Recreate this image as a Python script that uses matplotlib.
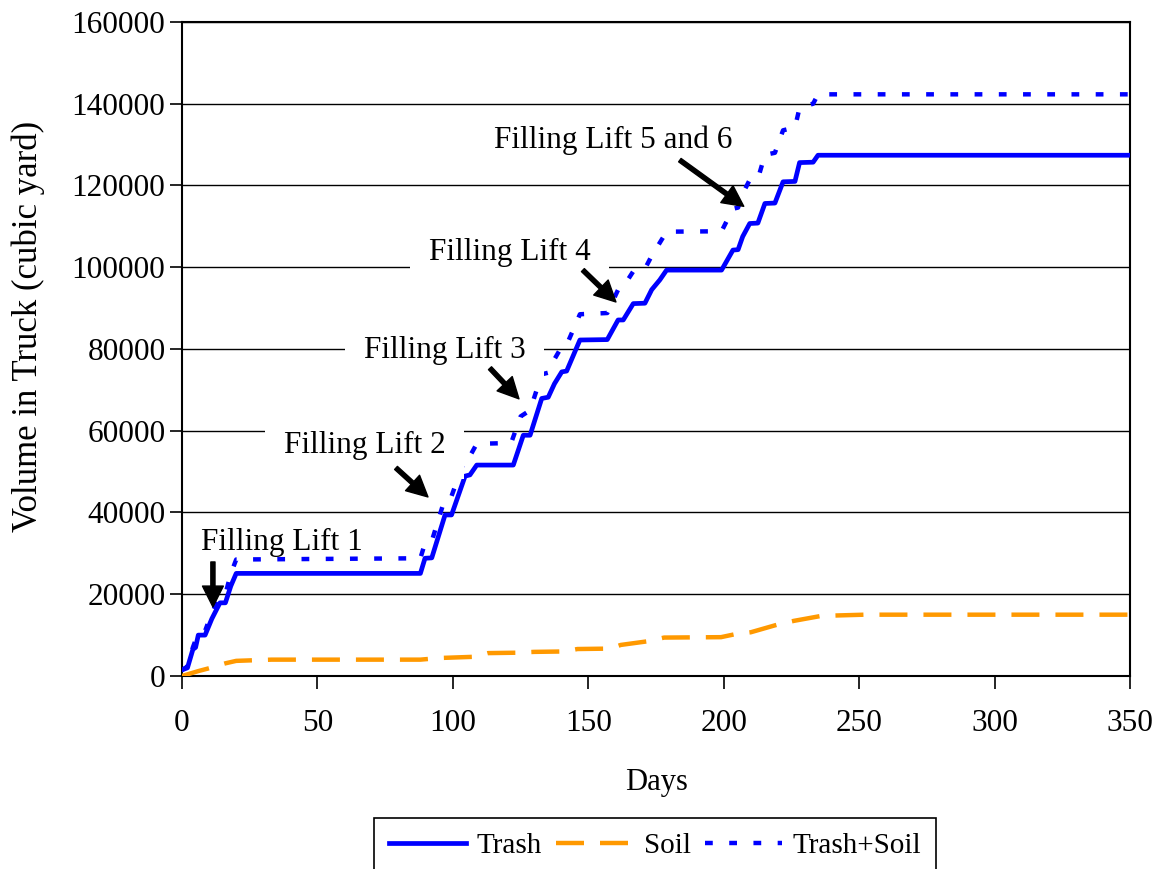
import numpy as np
import matplotlib
matplotlib.use('Agg')
import matplotlib.pyplot as plt

plt.rcParams['font.family'] = ['Liberation Serif', 'DejaVu Serif']

# cumulative volumes hauled (cubic yard) by day
trash_days = [0, 2, 4, 5, 6, 8.5, 11, 14, 16, 18, 20, 88, 89.7, 92.2, 97.1, 99.5,
              104.5, 106.3, 108.8, 122.3, 126, 128.5, 132.8, 135.2, 137.5, 140.2,
              142, 146.9, 157, 161, 162.9, 166.6, 170.9, 173.4, 176.4, 178.9, 199.2,
              203.4, 205.3, 207, 209.6, 212.6, 215.2, 218.9, 221.9, 226.3, 228, 233,
              234.8, 350]
trash_vol = [1500, 2000, 6500, 7000, 10000, 10000, 14000, 17900, 17900, 22000, 25100,
             25100, 28800, 28900, 39400, 39400, 48900, 49200, 51600, 51600, 58900,
             58900, 67900, 68200, 71500, 74400, 74600, 82200, 82300, 87100, 87100,
             91100, 91200, 94500, 96900, 99300, 99300, 104200, 104300, 107500, 110700,
             110800, 115600, 115700, 120900, 121000, 125600, 125700, 127400, 127400]

soil_days = [0, 3, 6, 10, 16, 20, 33, 88, 95, 108, 113, 124, 130, 141, 146, 158, 162,
             172, 178, 199, 204, 210, 220, 226, 236, 252, 350]
soil_vol = [0, 600, 1200, 1900, 3100, 3700, 4000, 4000, 4400, 4700, 5600, 5700, 5900,
            6000, 6600, 6700, 7600, 8500, 9400, 9500, 10200, 10700, 12600, 13500,
            14700, 15000, 15000]

total_days = [0, 2, 4, 6, 8.5, 11, 14, 16, 18, 20, 88, 89.7, 92.2, 97.1, 99.5, 104.5,
              106.3, 108.8, 121.5, 125, 128.5, 132.8, 135.2, 137.5, 140.2, 142, 146.9,
              157, 161, 162.9, 166.6, 170.9, 173.4, 176.4, 178.9, 199.2, 203.4, 205.3,
              207, 209.6, 212.6, 215.2, 218.9, 221.9, 226.3, 228, 233, 234.8, 350]
total_vol = [1500, 2300, 7000, 10600, 11000, 15500, 19200, 20000, 25000, 28500, 28800,
             32500, 33000, 43500, 44000, 53300, 53800, 56800, 57000, 63500, 65000,
             73800, 74200, 77500, 80600, 81000, 88500, 88800, 94500, 95200, 99000,
             99600, 102800, 106000, 108700, 108800, 114300, 114600, 118000, 121400,
             121600, 127500, 128000, 133500, 134200, 139000, 140000, 142300, 142300]

# annotation text, text position, arrow tail, arrow tip, white box behind text
notes = [
    ('Filling Lift 1', (36.9, 32600), (11.4, 27900), (11.4, 16900), False),
    ('Filling Lift 2', (67.4, 56300), (79.0, 50900), (90.8, 43800), True),
    ('Filling Lift 3', (96.9, 79700), (113.7, 75300), (124.4, 67800), True),
    ('Filling Lift 4', (120.9, 103500), (148.0, 99300), (160.2, 91500), True),
    ('Filling Lift 5 and 6', (159.3, 131100), (183.8, 126200), (207.4, 114900), True),
]

fig = plt.figure(figsize=(11.61, 8.69), dpi=100)
ax = fig.add_axes([0.1568, 0.2221, 0.9733 - 0.1568, 0.9747 - 0.2221])

blue = '#0000FF'
orange = '#FF9900'

l1, = ax.plot(trash_days, trash_vol, color=blue, lw=3.4, label='Trash', zorder=3)
l2, = ax.plot(soil_days, soil_vol, color=orange, lw=3.2, label='Soil', zorder=3)
l2.set_dashes((6.3, 3.6))
l3, = ax.plot(total_days, total_vol, color=blue, lw=3.2, label='Trash+Soil', zorder=3)
l3.set_dashes((1.75, 3.7))

ax.set_xlim(0, 350)
ax.set_ylim(0, 160000)
ax.set_xticks(np.arange(0, 351, 50))
ax.set_yticks(np.arange(0, 160001, 20000))
ax.yaxis.grid(True, color='black', lw=1)
ax.set_axisbelow(True)
ax.tick_params(direction='out', length=9, width=1.2, labelsize=22.5)
ax.tick_params(axis='x', pad=15)
ax.tick_params(axis='y', pad=3)
for s in ax.spines.values():
    s.set_linewidth(1.5)
    s.set_color('black')

ax.set_xlabel('Days', fontsize=22)
ax.set_ylabel('Volume in Truck (cubic yard)', fontsize=25)
ax.xaxis.set_label_coords(0.501, -0.1636)
ax.yaxis.set_label_coords(-0.1625, 0.534)
ax.xaxis.label.set_va('center')
ax.yaxis.label.set_va('center')

for txt, pos, tail, tip, boxed in notes:
    ax.annotate('', xy=tip, xytext=tail,
                arrowprops=dict(facecolor='black', edgecolor='black', width=3,
                                headwidth=15, headlength=15, shrink=0), zorder=5)
    box = dict(boxstyle='square,pad=0.6', fc='white', ec='none') if boxed else None
    ax.text(pos[0], pos[1], txt, fontsize=22.5, ha='center', va='center', zorder=4,
            bbox=box)

leg = fig.legend(handles=[l1, l2, l3], loc='upper center', ncol=3,
                 bbox_to_anchor=(655 / 1161, 1 - 818 / 869), fontsize=21,
                 fancybox=False, edgecolor='black', framealpha=1,
                 handlelength=2.65, columnspacing=0.5, handletextpad=0.35,
                 borderpad=0.5, borderaxespad=0)
leg.get_frame().set_linewidth(1.2)

fig.savefig('out.png', dpi=100)
